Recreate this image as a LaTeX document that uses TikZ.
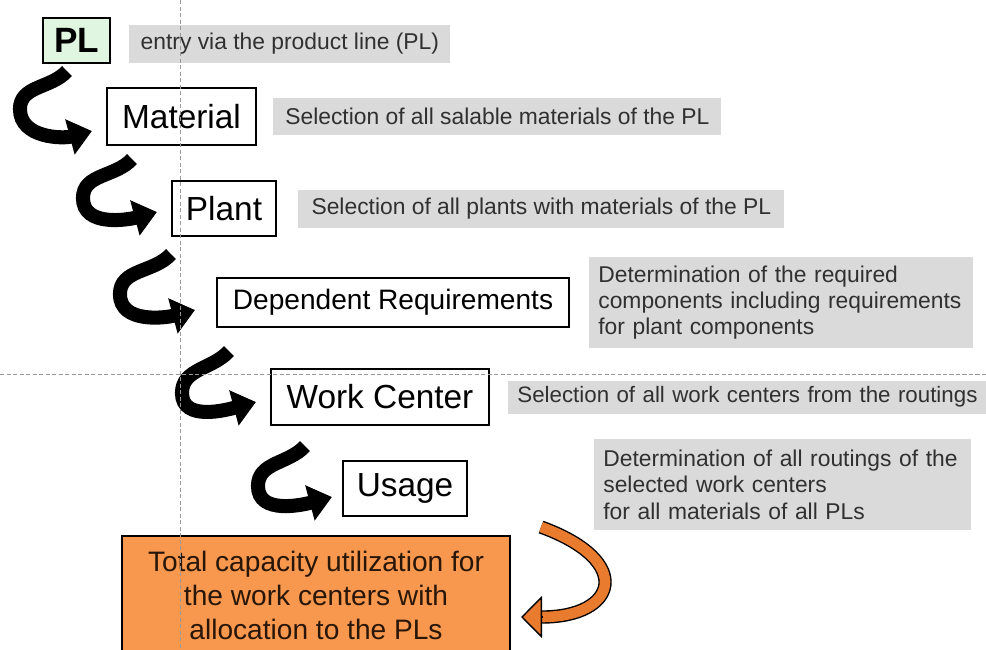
\documentclass[tikz,border=0pt]{standalone}
\usepackage{fontspec}
\setmainfont{Liberation Sans}
\usetikzlibrary{positioning, arrows.meta}

\definecolor{descgray}{RGB}{218,218,218}
\definecolor{desctext}{RGB}{48,48,48}
\definecolor{plgreen}{RGB}{224,246,224}
\definecolor{totalorange}{RGB}{248,152,78}
\definecolor{totaltext}{RGB}{40,22,8}
\definecolor{ribbonorange}{RGB}{233,123,46}

\begin{document}
\begin{tikzpicture}[
    x=0.02cm, y=0.02cm,
    node distance=0.36cm,
    stage/.style={draw, line width=1.2pt, fill=white, inner sep=0pt, font=\fontsize{19}{22}\selectfont},
    desc/.style={fill=descgray, text=desctext, inner xsep=0.18cm, inner ysep=0pt, align=left, font=\fontsize{13}{15}\selectfont},
    hook/.style={line width=8pt, -{Triangle[width=20pt, length=13pt]}},
    guide/.style={gray!80, line width=0.5pt, dash pattern=on 2.5pt off 1.2pt},
    ribbon/.style={draw=black, line width=0.8pt, double=ribbonorange, double distance=6pt},
    ribbon head/.style={draw=black, line width=0.8pt, -{Triangle[width=24pt, length=12pt, fill=ribbonorange]}}
]
\useasboundingbox (0,0) rectangle (986,-649);

% Steps, from the product line down to the usage
\node[stage, fill=plgreen, font=\fontsize{20}{24}\selectfont\bfseries, minimum width=1.34cm, minimum height=0.9cm] (pl) at (76.5,-40.5) {PL};
\node[stage, minimum width=2.98cm, minimum height=1.14cm] (mat) at (181.5,-116.5) {Material};
\node[stage, minimum width=2.08cm, minimum height=1.10cm] (plant) at (224,-208.5) {Plant};
\node[stage, font=\fontsize{16}{19}\selectfont, minimum width=7.04cm, minimum height=0.98cm] (dep) at (393,-302.5) {Dependent Requirements};
\node[stage, minimum width=4.36cm, minimum height=1.12cm] (wc) at (380,-397) {Work Center};
\node[stage, minimum width=2.48cm, minimum height=1.10cm] (usage) at (405,-488.5) {Usage};
\node[stage, fill=totalorange, text=totaltext, font=\fontsize{16}{19.4}\selectfont, align=center,
      minimum width=7.76cm, inner ysep=0.3cm, anchor=north] (total) at (316,-535)
      {Total capacity utilization for\\the work centers with\\allocation to the PLs};

% Grey notes
\node[desc, right=of pl, yshift=-0.07cm, minimum width=6.42cm, minimum height=0.76cm] (pl desc) {entry via the product line (PL)};
\node[desc, right=0.32cm of mat, minimum width=8.96cm, minimum height=0.74cm] (mat desc) {Selection of all salable materials of the PL};
\node[desc, right=0.42cm of plant, minimum width=9.72cm, minimum height=0.76cm] (plant desc) {Selection of all plants with materials of the PL};
\node[desc, right=0.38cm of dep, text width=7.32cm, minimum height=1.84cm] (dep desc)
    {Determination of the required\\components including requirements\\for plant components};
\node[desc, right=of wc, font=\fontsize{12.7}{15}\selectfont, text width=9.44cm, minimum height=0.66cm] (wc desc) {Selection of all work centers from the routings};
\node[desc, right=2.52cm of usage, yshift=0.08cm, text width=7.18cm, minimum height=1.82cm] (usage desc)
    {Determination of all routings of the\\selected work centers\\for all materials of all PLs};

% Hooked arrows between the steps
\draw[hook] ([shift={(25,-7)}]pl.south west) to[out=228,in=90] ++(-47,-38) to[out=-90,in=195] ([shift={(-14,-14.5)}]mat.west);
\draw[hook] ([shift={(26,-13)}]mat.south west) to[out=228,in=90] ++(-49,-39) to[out=-90,in=195] ([shift={(-14,-3.5)}]plant.west);
\draw[hook] ([shift={(0,-17)}]plant.south west) to[out=228,in=90] ++(-51,-40) to[out=-90,in=195] ([shift={(-21,-7.5)}]dep.west);
\draw[hook] ([shift={(13,-23)}]dep.south west) to[out=228,in=90] ++(-47,-42) to[out=-90,in=195] ([shift={(-14,-5)}]wc.west);
\draw[hook] ([shift={(35,-20)}]wc.south west) to[out=228,in=90] ++(-47,-40) to[out=-90,in=195] ([shift={(-10,-8.5)}]usage.west);

% Orange loop back into the total
\coordinate (swirl) at ([shift={(30,8)}]total.north east);
\coordinate (bend) at ([shift={(31,-82)}]total.north east);
\draw[ribbon] (swirl) .. controls +(-20:100) and +(0:75) .. (bend);
\draw[ribbon head] (bend) -- ++(-21,0);

% Dashed guide lines
\draw[guide] (180,0) -- (180,-649);
\draw[guide] (0,-374) -- (986,-374);
\end{tikzpicture}
\end{document}
